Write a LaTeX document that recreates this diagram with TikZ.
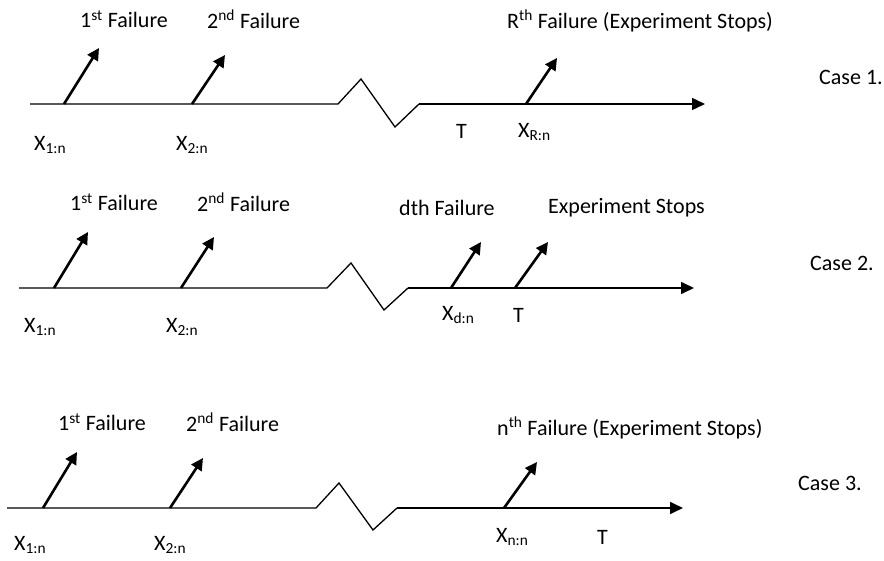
\documentclass[tikz,border=0pt]{standalone}
\usepackage{fontspec}
\setmainfont{Carlito}
\usetikzlibrary{arrows.meta}
\begin{document}
\begin{tikzpicture}[x=1pt,y=-1pt,
  lbl/.style={anchor=west,inner sep=0pt,font=\fontsize{22}{26}\selectfont},
  axisline/.style={line width=1.6pt,-{Triangle[length=13pt,width=12pt]}},
  zig/.style={line width=1.3pt},
  failarrow/.style={line width=2.6pt,-{Triangle[length=12pt,width=12pt]}}]
\useasboundingbox (0,0) rectangle (884,561);
% ---------- Case 1 ----------
\coordinate (a1s) at (30,104);
\coordinate (z1a) at (338,104);
\coordinate (z1b) at (361,79);
\coordinate (z1c) at (395,127);
\coordinate (z1d) at (419,104);
\coordinate (a1e) at (705,104);
\draw[zig] (a1s) -- (z1a) -- (z1b) -- (z1c) -- (z1d);
\draw[axisline] (z1d) -- (a1e);
\coordinate (f11s) at (64,104);  \coordinate (f11e) at (99,48);
\coordinate (f12s) at (192,104); \coordinate (f12e) at (225,55);
\coordinate (f1Rs) at (526,104); \coordinate (f1Re) at (557,58);
\draw[failarrow] (f11s) -- (f11e);
\draw[failarrow] (f12s) -- (f12e);
\draw[failarrow] (f1Rs) -- (f1Re);
\node[lbl] (l11) at (80,19) {1\textsuperscript{st} Failure};
\node[lbl] (l12) at (207,19) {2\textsuperscript{nd} Failure};
\node[lbl] (l1R) at (507,21) {R\textsuperscript{th} Failure (Experiment Stops)};
\node[lbl] (x11) at (34,145) {X\textsubscript{1:n}};
\node[lbl] (x12) at (176,145) {X\textsubscript{2:n}};
\node[lbl] (t1) at (456,131) {T};
\node[lbl] (x1R) at (518,132) {X\textsubscript{R:n}};
\node[lbl] (c1) at (819,77) {Case 1.};
% ---------- Case 2 ----------
\coordinate (a2s) at (19,288);
\coordinate (z2a) at (327,288);
\coordinate (z2b) at (351,263);
\coordinate (z2c) at (384,310);
\coordinate (z2d) at (408,288);
\coordinate (a2e) at (694,288);
\draw[zig] (a2s) -- (z2a) -- (z2b) -- (z2c) -- (z2d);
\draw[axisline] (z2d) -- (a2e);
\coordinate (f21s) at (54,288);  \coordinate (f21e) at (88,232);
\coordinate (f22s) at (181,288); \coordinate (f22e) at (214,237);
\coordinate (f2ds) at (451,288); \coordinate (f2de) at (481,242);
\coordinate (f2Ts) at (515,288); \coordinate (f2Te) at (548,242);
\draw[failarrow] (f21s) -- (f21e);
\draw[failarrow] (f22s) -- (f22e);
\draw[failarrow] (f2ds) -- (f2de);
\draw[failarrow] (f2Ts) -- (f2Te);
\node[lbl] (l21) at (70,202) {1\textsuperscript{st} Failure};
\node[lbl] (l22) at (197,202) {2\textsuperscript{nd} Failure};
\node[lbl] (l2d) at (399,208) {dth Failure};
\node[lbl] (l2T) at (548,208) {Experiment Stops};
\node[lbl] (x21) at (24,327) {X\textsubscript{1:n}};
\node[lbl] (x22) at (166,327) {X\textsubscript{2:n}};
\node[lbl] (x2d) at (442,315) {X\textsubscript{d:n}};
\node[lbl] (t2) at (513,315) {T};
\node[lbl] (c2) at (810,263) {Case 2.};
% ---------- Case 3 ----------
\coordinate (a3s) at (7,508);
\coordinate (z3a) at (316,508);
\coordinate (z3b) at (339,483);
\coordinate (z3c) at (373,530);
\coordinate (z3d) at (397,508);
\coordinate (a3e) at (683,508);
\draw[zig] (a3s) -- (z3a) -- (z3b) -- (z3c) -- (z3d);
\draw[axisline] (z3d) -- (a3e);
\coordinate (f31s) at (43,508);  \coordinate (f31e) at (77,452);
\coordinate (f32s) at (170,508); \coordinate (f32e) at (203,458);
\coordinate (f3ns) at (504,508); \coordinate (f3ne) at (537,462);
\draw[failarrow] (f31s) -- (f31e);
\draw[failarrow] (f32s) -- (f32e);
\draw[failarrow] (f3ns) -- (f3ne);
\node[lbl] (l31) at (58,422) {1\textsuperscript{st} Failure};
\node[lbl] (l32) at (186,422) {2\textsuperscript{nd} Failure};
\node[lbl] (l3n) at (497,428) {n\textsuperscript{th} Failure (Experiment Stops)};
\node[lbl] (x31) at (14,545) {X\textsubscript{1:n}};
\node[lbl] (x32) at (154,545) {X\textsubscript{2:n}};
\node[lbl] (x3n) at (496,537) {X\textsubscript{n:n}};
\node[lbl] (t3) at (597,537) {T};
\node[lbl] (c3) at (798,483) {Case 3.};
\end{tikzpicture}
\end{document}
